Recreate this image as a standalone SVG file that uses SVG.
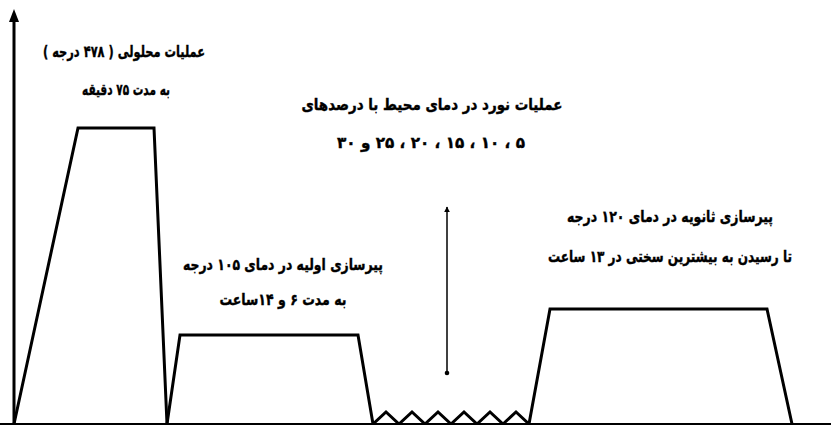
<svg xmlns="http://www.w3.org/2000/svg" width="831" height="425" viewBox="0 0 831 425">
<defs>
<style>
.curve{fill:none;stroke:#000;stroke-width:3;stroke-linejoin:miter}
.lbl{font-family:"DejaVu Sans",sans-serif;font-weight:bold;font-size:16px;fill:#000;stroke:#000;stroke-width:0.4;text-anchor:middle;direction:rtl}
</style>
<marker id="ah" viewBox="0 0 10 10" refX="9" refY="5" markerWidth="4" markerHeight="4" orient="auto"><path d="M0,0 L10,5 L0,10 z" fill="#000"/></marker>
</defs>
<rect width="831" height="425" fill="#fff"/>
<g id="axes">
<line x1="0" y1="424" x2="831" y2="424" stroke="#000" stroke-width="2"/>
<line x1="14" y1="425" x2="14" y2="20" stroke="#000" stroke-width="3"/>
<polygon points="14,9 9,22 19,22" fill="#000"/>
</g>
<g id="connectors">
<polyline class="curve" points="14,424 78,128 154,128 167,424"/>
<polyline class="curve" points="167,424 180,335 358,335 373,424"/>
<polyline class="curve" points="373,424 386,412 399,424 412,412 425,424 438,412 451,424 464,412 477,424 490,412 503,424 516,412 529,424"/>
<polyline class="curve" points="529,424 550,309 767,309 792,424"/>
<line x1="447" y1="373" x2="447" y2="207" stroke="#000" stroke-width="1.5" marker-end="url(#ah)"/>
<circle cx="447" cy="373" r="2.3" fill="#000"/>
</g>
<g id="solution">
<text class="lbl" x="124" y="57" textLength="162" lengthAdjust="spacingAndGlyphs">عملیات محلولی ( ۴۷۸ درجه )</text>
<text class="lbl" x="126" y="95" textLength="88" lengthAdjust="spacingAndGlyphs">به مدت ۷۵ دقیقه</text>
</g>
<g id="rolling">
<text class="lbl" x="432" y="110" textLength="261" lengthAdjust="spacingAndGlyphs">عملیات نورد در دمای محیط با درصدهای</text>
<text class="lbl" x="431" y="148" textLength="188" lengthAdjust="spacingAndGlyphs">۵ ، ۱۰ ، ۱۵ ، ۲۰ ، ۲۵ و ۳۰</text>
</g>
<g id="primary-aging">
<text class="lbl" x="283" y="270" textLength="200" lengthAdjust="spacingAndGlyphs">پیرسازی اولیه در دمای ۱۰۵ درجه</text>
<text class="lbl" x="283" y="305" textLength="127" lengthAdjust="spacingAndGlyphs">به مدت ۶ و ۱۴ساعت</text>
</g>
<g id="secondary-aging">
<text class="lbl" x="670" y="222" textLength="206" lengthAdjust="spacingAndGlyphs">پیرسازی ثانویه در دمای ۱۲۰ درجه</text>
<text class="lbl" x="670" y="262" textLength="244" lengthAdjust="spacingAndGlyphs">تا رسیدن به بیشترین سختی در ۱۳ ساعت</text>
</g>
</svg>
